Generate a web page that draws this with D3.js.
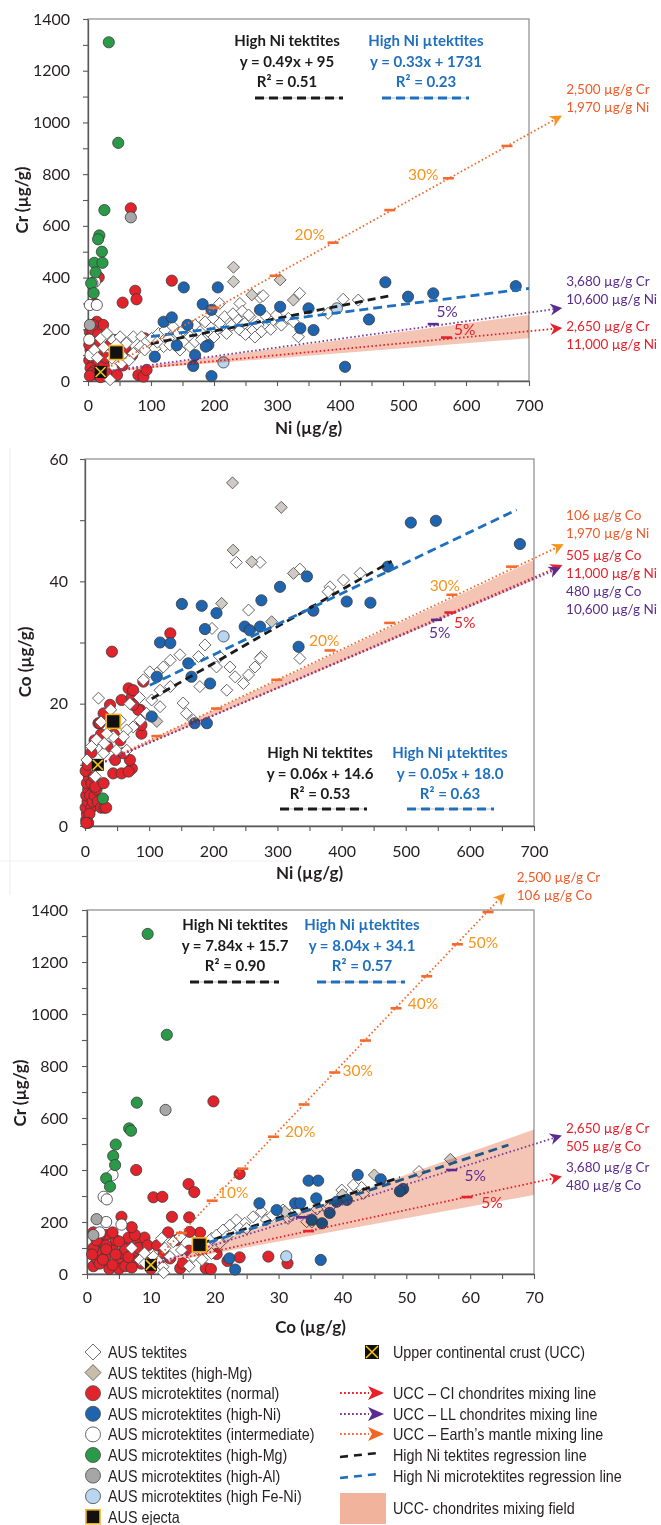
<!DOCTYPE html>
<html>
<head>
<meta charset="utf-8">
<script src="https://cdn.jsdelivr.net/npm/d3@7"></script>
<style>
  body { margin: 0; background: #fff; }
</style>
</head>
<body>
<script>
// ---------- data: panel 1, Cr vs Ni  [Ni, Cr] ----------
const crNiTektites = [[20,165],[30,184],[40,158],[51,171],[61,146],[72,171],[85,171],[93,152],[101,165],[112,184],[122,197],[128,165],[135,210],[143,184],[151,197],[162,171],[170,216],[178,191],[186,229],[194,184],[199,242],[204,197],[209,223],[217,249],[220,184],[228,216],[236,242],[241,197],[249,223],[257,249],[262,197],[270,216],[275,191],[283,249],[291,229],[299,255],[307,216],[318,242],[326,229],[209,300],[241,300],[273,323],[146,120],[162,133],[170,152],[120,133],[106,126],[83,133],[72,107],[56,94],[35,5],[53,68],[38,88],[336,339],[334,171],[381,262],[405,316],[429,313],[10,120],[15,90],[25,130],[45,140],[65,80],[90,120],[110,150],[130,140],[180,160],[200,170],[250,180],[265,170],[290,200],[230,260],[245,270],[255,255],[278,330]];
const crNiTektitesMg = [[231,440],[231,384],[305,391],[260,333],[326,313]];
const crNiNormal = [[68,668],[133,388],[17,401],[55,303],[75,349],[77,316],[11,298],[14,229],[24,217],[8,217],[3,190],[5,170],[8,150],[12,140],[4,120],[10,110],[15,100],[6,90],[2,80],[9,70],[14,60],[4,50],[10,40],[18,35],[6,30],[12,25],[3,20],[20,15],[25,60],[28,90],[35,140],[43,158],[48,130],[60,120],[70,100],[55,60],[30,30],[46,23],[80,23],[88,17],[93,43],[90,165],[2,140],[7,200],[16,180]];
const crNiHighNi = [[152,362],[206,362],[182,297],[196,275],[120,229],[133,246],[273,275],[305,287],[191,139],[187,133],[170,100],[167,58],[196,19],[141,138],[106,94],[158,217],[350,281],[337,204],[358,197],[472,382],[508,326],[548,339],[679,367],[446,238],[408,55]];
const crNiIntermediate = [[3,294],[14,294],[11,384],[7,378],[2,160],[4,100]];
const crNiHighMg = [[33,1310],[48,921],[26,661],[18,563],[16,548],[22,500],[10,457],[23,457],[12,420],[5,378],[9,340]];
const crNiHighAl = [[68,633],[3,217]];
const crNiFeNi = [[215,72],[395,281]];
const crNiEjecta = [[45,110]];
const crNiUcc = [[20,35]];
const crNiMantleTicks = [[200,283],[297,407],[389,535],[479,661],[572,784],[665,909]];
const crNiCiTicks = [[569,168]];
const crNiLlTicks = [[548,220]];
const crNiMixEnds = { mantle: [749,1022], ci: [749,204], ll: [749,281] };
const crNiField = [[20,35],[700,255],[700,165]];
const crNiRegTek = [[100,144],[480,330]];
const crNiRegMicro = [[100,172],[700,358]];

// ---------- data: panel 2, Co vs Ni  [Ni, Co] ----------
const coNiTektites = [[236,43.1],[273,43.1],[335,42],[255,35.3],[198,32.3],[187,29.6],[210,27.7],[177,27.7],[148,28],[133,27.1],[122,26],[112,25],[101,25.2],[91,23.9],[275,27.7],[265,26],[255,24.7],[247,23.3],[234,24.4],[221,22.2],[226,26],[205,26],[179,22.8],[153,20.1],[158,18.4],[169,17.3],[133,22.8],[117,22.2],[104,20.6],[117,19.5],[96,18.4],[86,17.3],[75,16.2],[65,15.7],[55,17.3],[60,14.6],[44,14.6],[34,15.1],[21,20.9],[18,14.1],[29,11.9],[49,12.4],[65,12.4],[16,8.1],[3,10.8],[335,27.4],[273,27.4],[403,40.2],[429,41.3],[382,39.1],[379,38.3],[10,13],[25,17],[40,19],[70,20],[85,21],[30,13.5]];
const coNiTektitesMg = [[230,56.1],[306,52.1],[231,45.1],[260,43.2],[325,41.3],[213,36.4],[291,33.4],[112,17.1]];
const coNiNormal = [[2,1],[3,2],[1,3],[4,4],[2,5],[5,6],[3,7],[6,8],[1,9],[4,10],[8,5],[10,3],[7,2],[5,0.5],[2,0.5],[12,4],[15,5],[18,6],[10,7],[14,8],[20,4],[25,3],[30,3],[33,3],[16,6.4],[29,7],[44,8.6],[57,8.6],[73,9.4],[68,8.9],[47,10.8],[70,10.8],[60,11.9],[88,15.1],[88,16.5],[86,19],[83,19],[39,19.8],[21,16.8],[23,16.8],[29,18.4],[57,20.6],[73,21.1],[75,19.8],[68,22.5],[75,22.2],[91,23.6],[42,28.5],[133,31.5],[10,12],[15,14],[25,15],[35,13],[45,15],[55,14]];
const coNiHighNi = [[151,36.3],[182,36],[205,34.8],[304,39.1],[275,36.9],[249,32.6],[257,32],[273,32.6],[187,32.2],[117,30],[133,29.9],[161,26.6],[166,24.4],[195,23.3],[112,24.4],[171,16.8],[190,16.8],[333,29.3],[346,40.8],[356,35.2],[508,49.6],[547,49.9],[678,46.1],[472,42.4],[408,36.7],[445,36.5],[104,17.9]];
const coNiIntermediate = [];
const coNiHighMg = [[28,4.5]];
const coNiHighAl = [];
const coNiFeNi = [[216,31]];
const coNiEjecta = [[44,17.1]];
const coNiUcc = [[20,10]];
const coNiMantleTicks = [[112,14.7],[205,19.2],[299,23.9],[382,28.7],[475,33.2],[572,37.8],[665,42.4]];
const coNiCiTicks = [[569,34.9]];
const coNiLlTicks = [[548,33.7]];
const coNiMixEnds = { mantle: [743,45.9], ci: [741,42.5], ll: [738,42.1] };
const coNiField = [[20,10],[700,43.5],[700,40.2]];
const coNiRegTek = [[104,20.8],[478,43.3]];
const coNiRegMicro = [[101,23],[673,51.7]];

// ---------- data: panel 3, Cr vs Co  [Co, Cr] ----------
const crCoTektites = [[8.3,54],[9.1,41],[10.4,67],[11.2,47],[11.7,137],[12.2,99],[13.5,124],[14.6,143],[14.8,92],[13,67],[11.9,28],[12,5],[16.6,67],[17.9,92],[19.5,137],[20.3,150],[21.3,169],[22.4,188],[23.4,208],[24.7,195],[26,220],[27.3,240],[28.1,208],[30.7,246],[31.5,214],[33.1,246],[34.4,201],[21.9,144],[23.9,176],[20.8,118],[19.5,79],[18,55],[16,30],[43,333],[41.7,342],[39.9,323],[43.3,310],[35.2,200],[38.1,259],[52,394],[36,250],[32,230],[29,225],[25,175],[9,80],[7,100]];
const crCoTektitesMg = [[56.9,441],[45,381],[40,305],[31,240]];
const crCoNormal = [[1,30],[1.5,60],[2,90],[2.5,120],[3,150],[1,100],[2,40],[3,70],[4,100],[4.5,130],[5,50],[5.5,80],[6,110],[6.5,140],[3.5,20],[7,60],[7.5,90],[8,120],[8.5,40],[9,70],[2,150],[4,160],[5,20],[6,30],[3,110],[1.5,130],[7,25],[8,100],[9,140],[9.5,110],[0.8,75],[2.5,55],[4,35],[6,95],[5,125],[3,95],[7.5,150],[1,160],[4.5,75],[6.5,65],[5.4,220],[7,180],[7.7,400],[10.4,295],[11.8,297],[15.9,346],[16.8,315],[23.9,385],[13.3,220],[16,218],[17.7,159],[12.7,160],[16.1,162],[20.3,77],[23.9,64],[28.4,67],[31.4,41],[18.6,22],[19.4,19],[14.6,22],[19.8,664],[11,110],[12,80],[13,60],[15,40],[16,90],[14,130],[22,50],[10,20]];
const crCoHighNi = [[22.3,60],[23.2,17],[27,272],[29.7,246],[32.6,272],[34.7,359],[36.2,359],[35.9,291],[42.4,381],[46,364],[36.6,54],[49.5,327],[49,318],[33.4,272],[40.7,285],[39.1,278],[36.8,195],[35.2,208],[38,235]];
const crCoIntermediate = [[4,381],[2.6,297],[3.1,287],[5.4,190],[3,200],[2,160]];
const crCoHighMg = [[9.5,1308],[12.5,920],[7.8,659],[6.6,560],[6.9,551],[4.5,498],[4.1,454],[4.4,419],[3,368],[3.6,336]];
const crCoHighAl = [[12.3,631],[1.5,211],[1,150]];
const crCoFeNi = [[31.2,68]];
const crCoEjecta = [[17.6,112]];
const crCoUcc = [[10,35]];
const crCoMantleTicks = [[14.8,158],[19.6,282],[24.4,405],[29.2,528],[34,652],[38.8,775],[43.6,898],[48.4,1022],[53.2,1145],[58,1268],[62.8,1392]];
const crCoCiTicks = [[34.7,165],[59.5,296]];
const crCoLlTicks = [[33.6,218],[57.1,400]];
const crCoMixEnds = { mantle: [65.2,1458], ci: [74,373], ll: [74,530] };
const crCoField = [[10,35],[70,556],[70,304]];
const crCoRegTek = [[18,118],[49,372]];
const crCoRegMicro = [[17,105],[66,496]];

// ---------- text ----------
const eqTek = [['High Ni tektites','y = 0.49x + 95','R² = 0.51'],['High Ni tektites','y = 0.06x + 14.6','R² = 0.53'],['High Ni tektites','y = 7.84x + 15.7','R² = 0.90']];
const eqMicro = [['High Ni µtektites','y = 0.33x + 1731','R² = 0.23'],['High Ni µtektites','y = 0.05x + 18.0','R² = 0.63'],['High Ni µtektites','y = 8.04x + 34.1','R² = 0.57']];
// end-member notes [x, y, line1, line2, kind]
const crNiNotes = [[759,1110,'2,500 µg/g Cr','1,970 µg/g Ni','mantle'],[759,367,'3,680 µg/g Cr','10,600 µg/g Ni','ll'],[759,193,'2,650 µg/g Cr','11,000  µg/g Ni','ci']];
const coNiNotes = [[750,50.0,'106 µg/g Co','1,970 µg/g Ni','mantle'],[750,43.5,'505 µg/g Co','11,000  µg/g Ni','ci'],[750,37.6,'480 µg/g Co','10,600 µg/g Ni','ll']];
const crCoNotes = [[67.3,1508,'2,500 µg/g Cr','106 µg/g Co','mantle'],[75,542,'2,650 µg/g Cr','505  µg/g Co','ci'],[75,392,'3,680 µg/g Cr','480 µg/g Co','ll']];
// percentage labels [x, y, text, kind]
const crNiPct = [[352,545,'20%','mantle'],[532,777,'30%','mantle'],[570,247,'5%','ll'],[598,178,'5%','ci']];
const coNiPct = [[373,29.4,'20%','mantle'],[561,38.4,'30%','mantle'],[592,32.4,'5%','ci'],[553,30.7,'5%','ll']];
const crCoPct = [[62,1254,'50%','mantle'],[52.6,1019,'40%','mantle'],[42.4,762,'30%','mantle'],[33.4,527,'20%','mantle'],[22.9,292,'10%','mantle'],[60.8,358,'5%','ll'],[63.4,254,'5%','ci']];

const legendLeft = ['AUS tektites','AUS tektites (high-Mg)','AUS microtektites (normal)','AUS microtektites (high-Ni)','AUS microtektites (intermediate)','AUS microtektites (high-Mg)','AUS microtektites (high-Al)','AUS microtektites (high Fe-Ni)','AUS ejecta'];
const legendRight = ['Upper continental crust (UCC)','UCC – CI chondrites mixing line','UCC – LL chondrites mixing line','UCC – Earth’s mantle mixing line','High Ni tektites regression line','High Ni microtektites regression line','UCC- chondrites mixing field'];

// ---------- styles ----------
const mainFont = 'Lato, "Open Sans", sans-serif';
const legendFont = '"Liberation Sans", Arial, sans-serif';
const ink = '#231f20';
const circleStyles = {
  normal: '#e3232b', highNi: '#1f64ae', intermediate: '#ffffff', highMg: '#2a9a48',
  highAl: '#a6a6a6', feNi: '#b9d6f0'
};
const mixColors = {
  mantle: { line: '#f26a2e', head: '#f7941d', tick: '#f26a2e', note: '#f05a28', pct: '#f7941d' },
  ci:     { line: '#e8202a', head: '#e8202a', tick: '#e8202a', note: '#e8202a', pct: '#e8202a' },
  ll:     { line: '#7a3b9c', head: '#5b2c90', tick: '#5b2c90', note: '#5b2c90', pct: '#5b2c90' }
};
const tekColor = '#1b1b1b', microColor = '#1f6fbf';
const fieldColor = '#f0ad95';

const svg = d3.select('body').append('svg').attr('width', 661).attr('height', 1525);
const defs = svg.append('defs');
Object.entries(mixColors).forEach(([k, c]) => {
  defs.append('marker')
    .attr('id', 'arrow-' + k)
    .attr('viewBox', '0 0 10 10')
    .attr('refX', 8).attr('refY', 5)
    .attr('markerUnits', 'userSpaceOnUse')
    .attr('markerWidth', 12).attr('markerHeight', 12)
    .attr('orient', 'auto')
    .append('path').attr('d', 'M0,0 L10,5 L0,10 L3,5 Z').attr('fill', c.head);
});

// faint scan edges
svg.append('line').attr('x1', 10).attr('x2', 10).attr('y1', 448).attr('y2', 895).attr('stroke', '#ececec');
svg.append('line').attr('x1', 0).attr('x2', 300).attr('y1', 861).attr('y2', 861).attr('stroke', '#f0f0f0');

const diamondPath = s => `M0,${-s}L${s},0L0,${s}L${-s},0Z`;

function drawDiamonds(g, data, x, y, fill) {
  g.append('g').selectAll('path').data(data).enter().append('path')
    .attr('d', diamondPath(6))
    .attr('transform', d => `translate(${x(d[0])},${y(d[1])})`)
    .attr('fill', fill).attr('stroke', '#555').attr('stroke-width', 0.9);
}
function drawCircles(g, data, x, y, fill) {
  g.append('g').selectAll('circle').data(data).enter().append('circle')
    .attr('cx', d => x(d[0])).attr('cy', d => y(d[1])).attr('r', 5.6)
    .attr('fill', fill).attr('stroke', '#3a3a3a').attr('stroke-width', 0.8);
}
function drawEjecta(g, cx, cy, s) {
  g.append('rect').attr('x', cx - s / 2).attr('y', cy - s / 2).attr('width', s).attr('height', s)
    .attr('fill', '#111').attr('stroke', '#f2b21b').attr('stroke-width', 1.6);
}
function drawUcc(g, cx, cy, s) {
  g.append('rect').attr('x', cx - s / 2).attr('y', cy - s / 2).attr('width', s).attr('height', s)
    .attr('fill', '#111');
  g.append('path').attr('d', `M${cx - s / 2 + 1},${cy - s / 2 + 1}L${cx + s / 2 - 1},${cy + s / 2 - 1}M${cx + s / 2 - 1},${cy - s / 2 + 1}L${cx - s / 2 + 1},${cy + s / 2 - 1}`)
    .attr('stroke', '#f2c318').attr('stroke-width', 1.6);
}

function styleAxis(sel) {
  sel.attr('font-family', mainFont).attr('font-size', 16);
  sel.select('.domain').attr('stroke', '#595959').attr('stroke-width', 1.3);
  sel.selectAll('.tick line').attr('stroke', '#595959').attr('stroke-width', 1.1);
  sel.selectAll('text').attr('fill', ink);
}

function drawPanel(p) {
  const x = d3.scaleLinear().domain(p.xDomain).range(p.xRange);
  const y = d3.scaleLinear().domain(p.yDomain).range(p.yRange);
  const g = svg.append('g');
  const [x0, x1] = p.xRange, [yb, yt] = p.yRange;

  g.append('rect').attr('x', x0).attr('y', yt).attr('width', x1 - x0).attr('height', yb - yt)
    .attr('fill', 'none').attr('stroke', '#8a8a8a').attr('stroke-width', 1.2);

  const fmt = d3.format('d');
  g.append('g').attr('transform', `translate(${x0},0)`)
    .call(d3.axisLeft(y)
      .tickValues(d3.range(p.yDomain[0], p.yDomain[1] + 1e-6, p.yTick))
      .tickSize(5).tickSizeOuter(0).tickPadding(p.yPad)
      .tickFormat(d => Math.round(d) % p.yLabel === 0 ? fmt(d) : ''))
    .call(styleAxis);
  g.append('g').attr('transform', `translate(0,${yb})`)
    .call(d3.axisBottom(x)
      .tickValues(d3.range(p.xDomain[0], p.xDomain[1] + 1e-6, p.xTick))
      .tickSize(5).tickSizeOuter(0).tickPadding(p.xPad)
      .tickFormat(d => Math.round(d) % p.xLabel === 0 ? fmt(d) : ''))
    .call(styleAxis);

  g.append('text').text(p.xTitle).attr('x', (x0 + x1) / 2).attr('y', p.xTitleY)
    .attr('text-anchor', 'middle').attr('font-family', mainFont).attr('font-weight', 700)
    .attr('font-size', 17).attr('fill', ink);
  g.append('text').text(p.yTitle)
    .attr('transform', `translate(${p.yTitleX},${p.yTitleY}) rotate(-90)`)
    .attr('text-anchor', 'middle').attr('dy', '0.35em').attr('font-family', mainFont).attr('font-weight', 700)
    .attr('font-size', 17).attr('fill', ink);

  // points
  drawCircles(g, p.normal, x, y, circleStyles.normal);
  drawCircles(g, p.intermediate, x, y, circleStyles.intermediate);
  drawCircles(g, p.highMg, x, y, circleStyles.highMg);
  drawCircles(g, p.highAl, x, y, circleStyles.highAl);
  drawDiamonds(g, p.tektites, x, y, '#ffffff');
  drawDiamonds(g, p.tektitesMg, x, y, '#cfcbc4');
  drawCircles(g, p.highNi, x, y, circleStyles.highNi);
  drawCircles(g, p.feNi, x, y, circleStyles.feNi);

  // regression lines
  const line = d3.line().x(d => x(d[0])).y(d => y(d[1]));
  g.append('path').attr('d', line(p.regTek)).attr('fill', 'none')
    .attr('stroke', tekColor).attr('stroke-width', 2.8).attr('stroke-dasharray', '8,5');
  g.append('path').attr('d', line(p.regMicro)).attr('fill', 'none')
    .attr('stroke', microColor).attr('stroke-width', 2.8).attr('stroke-dasharray', '9,5');

  // mixing field (drawn over the points, multiplied)
  g.append('path').attr('d', line(p.field) + 'Z').attr('fill', fieldColor)
    .attr('opacity', 0.7).style('mix-blend-mode', 'multiply');

  // mixing lines
  Object.entries(p.mixEnds).forEach(([k, end]) => {
    g.append('path').attr('d', line([p.ucc[0], end])).attr('fill', 'none')
      .attr('stroke', mixColors[k].line).attr('stroke-width', 1.8)
      .attr('stroke-dasharray', '1.6,2.4')
      .attr('marker-end', `url(#arrow-${k})`);
  });
  [['mantle', p.mantleTicks], ['ci', p.ciTicks], ['ll', p.llTicks]].forEach(([k, ticks]) => {
    g.append('g').selectAll('line').data(ticks).enter().append('line')
      .attr('x1', d => x(d[0]) - 5.5).attr('x2', d => x(d[0]) + 5.5)
      .attr('y1', d => y(d[1])).attr('y2', d => y(d[1]))
      .attr('stroke', mixColors[k].tick).attr('stroke-width', 2.6);
  });

  // end-member markers
  p.ejecta.forEach(d => drawEjecta(g, x(d[0]), y(d[1]), 14));
  p.ucc.forEach(d => drawUcc(g, x(d[0]), y(d[1]), 12));

  // percentage labels
  g.append('g').selectAll('text').data(p.pct).enter().append('text')
    .attr('x', d => x(d[0])).attr('y', d => y(d[1])).text(d => d[2])
    .attr('text-anchor', 'middle').attr('font-family', mainFont).attr('font-size', 15.5)
    .attr('fill', d => mixColors[d[3]].pct);

  // end-member notes
  p.notes.forEach(n => {
    const t = g.append('text').attr('font-family', mainFont).attr('font-size', 13.5)
      .attr('fill', mixColors[n[4]].note);
    t.append('tspan').attr('x', x(n[0])).attr('y', y(n[1])).text(n[2]);
    t.append('tspan').attr('x', x(n[0])).attr('dy', 18).text(n[3]);
  });

  // regression equations
  [[p.eqTek, p.eqTekPos, tekColor], [p.eqMicro, p.eqMicroPos, microColor]].forEach(([lines, pos, col]) => {
    const t = g.append('text').attr('font-family', mainFont).attr('font-weight', 700)
      .attr('font-size', 15).attr('fill', col).attr('text-anchor', 'middle');
    lines.forEach((s, i) => t.append('tspan').attr('x', pos.cx).attr('y', pos.top + i * 20.5).text(s));
    g.append('line').attr('x1', pos.l0).attr('x2', pos.l1).attr('y1', pos.ly).attr('y2', pos.ly)
      .attr('stroke', '#bfbfbf').attr('stroke-width', 1);
    g.append('line').attr('x1', pos.l0).attr('x2', pos.l1).attr('y1', pos.ly).attr('y2', pos.ly)
      .attr('stroke', col).attr('stroke-width', 2.8).attr('stroke-dasharray', '9,5');
  });
}

drawPanel({
  xDomain: [0, 700], xRange: [88, 529], yDomain: [0, 1400], yRange: [381, 19],
  xTick: 50, xLabel: 100, yTick: 100, yLabel: 200, xPad: 14, yPad: 13,
  xTitle: 'Ni (µg/g)', yTitle: 'Cr (µg/g)', xTitleY: 434, yTitleX: 22, yTitleY: 200,
  tektites: crNiTektites, tektitesMg: crNiTektitesMg, normal: crNiNormal, highNi: crNiHighNi,
  intermediate: crNiIntermediate, highMg: crNiHighMg, highAl: crNiHighAl, feNi: crNiFeNi,
  ejecta: crNiEjecta, ucc: crNiUcc, mantleTicks: crNiMantleTicks, ciTicks: crNiCiTicks,
  llTicks: crNiLlTicks, mixEnds: crNiMixEnds, field: crNiField, regTek: crNiRegTek,
  regMicro: crNiRegMicro, notes: crNiNotes, pct: crNiPct,
  eqTek: eqTek[0], eqMicro: eqMicro[0],
  eqTekPos: { cx: 287, top: 46, l0: 255, l1: 343, ly: 98 },
  eqMicroPos: { cx: 426, top: 46, l0: 382, l1: 469, ly: 98 }
});

drawPanel({
  xDomain: [0, 700], xRange: [85, 534], yDomain: [0, 60], yRange: [826, 459],
  xTick: 50, xLabel: 100, yTick: 10, yLabel: 20, xPad: 15, yPad: 12,
  xTitle: 'Ni (µg/g)', yTitle: 'Co (µg/g)', xTitleY: 879, yTitleX: 25, yTitleY: 662,
  tektites: coNiTektites, tektitesMg: coNiTektitesMg, normal: coNiNormal, highNi: coNiHighNi,
  intermediate: coNiIntermediate, highMg: coNiHighMg, highAl: coNiHighAl, feNi: coNiFeNi,
  ejecta: coNiEjecta, ucc: coNiUcc, mantleTicks: coNiMantleTicks, ciTicks: coNiCiTicks,
  llTicks: coNiLlTicks, mixEnds: coNiMixEnds, field: coNiField, regTek: coNiRegTek,
  regMicro: coNiRegMicro, notes: coNiNotes, pct: coNiPct,
  eqTek: eqTek[1], eqMicro: eqMicro[1],
  eqTekPos: { cx: 320, top: 758, l0: 280, l1: 367, ly: 809 },
  eqMicroPos: { cx: 450, top: 758, l0: 407, l1: 494, ly: 809 }
});

drawPanel({
  xDomain: [0, 70], xRange: [87, 534], yDomain: [0, 1400], yRange: [1274, 910],
  xTick: 5, xLabel: 10, yTick: 100, yLabel: 200, xPad: 13, yPad: 14,
  xTitle: 'Co (µg/g)', yTitle: 'Cr (µg/g)', xTitleY: 1333, yTitleX: 20, yTitleY: 1093,
  tektites: crCoTektites, tektitesMg: crCoTektitesMg, normal: crCoNormal, highNi: crCoHighNi,
  intermediate: crCoIntermediate, highMg: crCoHighMg, highAl: crCoHighAl, feNi: crCoFeNi,
  ejecta: crCoEjecta, ucc: crCoUcc, mantleTicks: crCoMantleTicks, ciTicks: crCoCiTicks,
  llTicks: crCoLlTicks, mixEnds: crCoMixEnds, field: crCoField, regTek: crCoRegTek,
  regMicro: crCoRegMicro, notes: crCoNotes, pct: crCoPct,
  eqTek: eqTek[2], eqMicro: eqMicro[2],
  eqTekPos: { cx: 235, top: 930, l0: 190, l1: 279, ly: 982 },
  eqMicroPos: { cx: 362, top: 930, l0: 317, l1: 405, ly: 982 }
});

// ---------- legend ----------
// the original legend is set in a condensed face; squeeze a regular one horizontally
const lg = svg.append('g').attr('font-family', legendFont).attr('font-size', 16.5).attr('fill', ink);
const squeeze = 0.87;
function legendText(x, y, s) {
  lg.append('text').attr('transform', `translate(${x},${y}) scale(${squeeze},1)`).text(s);
}
const leftFills = ['#ffffff', '#c9bda9', circleStyles.normal, circleStyles.highNi, circleStyles.intermediate,
  circleStyles.highMg, circleStyles.highAl, circleStyles.feNi, null];
legendLeft.forEach((label, i) => {
  const cy = 1352 + i * 20.6;
  if (i < 2) {
    lg.append('path').attr('d', diamondPath(8)).attr('transform', `translate(93,${cy})`)
      .attr('fill', leftFills[i]).attr('stroke', '#6d6d6d').attr('stroke-width', 1);
  } else if (i < 8) {
    lg.append('circle').attr('cx', 93).attr('cy', cy).attr('r', 7.5)
      .attr('fill', leftFills[i]).attr('stroke', '#555').attr('stroke-width', 0.9);
  } else {
    drawEjecta(lg, 93, cy, 14);
  }
  legendText(108, cy + 6, label);
});

const rightY = [1352, 1393, 1414, 1434, 1455, 1476, 1508];
legendRight.forEach((label, i) => {
  const cy = rightY[i];
  if (i === 0) drawUcc(lg, 372, cy, 14);
  else if (i <= 3) {
    const k = ['ci', 'll', 'mantle'][i - 1];
    lg.append('line').attr('x1', 340).attr('x2', 369).attr('y1', cy).attr('y2', cy)
      .attr('stroke', mixColors[k].line).attr('stroke-width', 2.2).attr('stroke-dasharray', '1.8,2.2');
    lg.append('path').attr('d', `M368,${cy - 7}L384,${cy}L368,${cy + 7}L372,${cy}Z`)
      .attr('fill', k === 'mantle' ? '#f26522' : mixColors[k].head);
  } else if (i <= 5) {
    lg.append('line').attr('x1', 340).attr('x2', 378).attr('y1', cy + 2).attr('y2', cy - 2)
      .attr('stroke', i === 4 ? tekColor : microColor).attr('stroke-width', 2.6).attr('stroke-dasharray', '8,6');
  } else {
    lg.append('rect').attr('x', 340).attr('y', 1493).attr('width', 46).attr('height', 31).attr('fill', '#f1b39c');
  }
  legendText(393, cy + 6, label);
});
</script>
</body>
</html>
